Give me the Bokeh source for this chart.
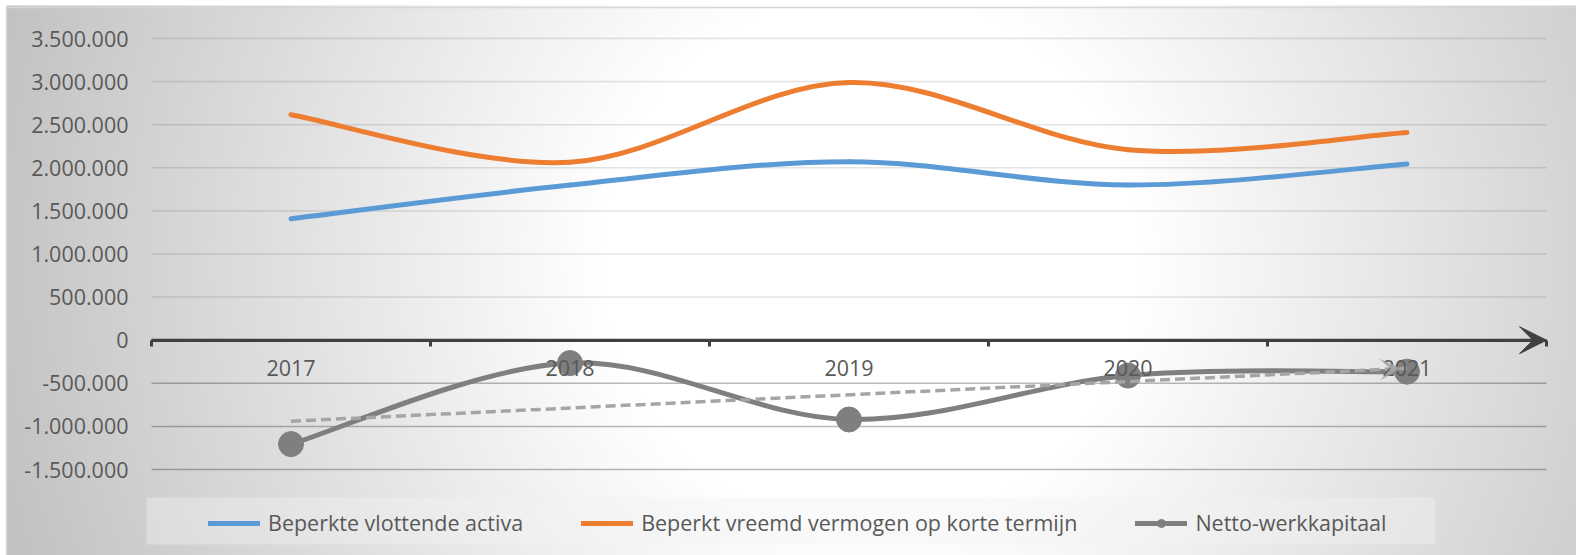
import numpy as np
from bokeh.plotting import figure
from bokeh.models import (Range1d, LinearAxis, FixedTicker, Arrow, VeeHead, Legend,
                          LegendItem, ColumnDataSource)
from bokeh.embed import file_html
from bokeh.resources import INLINE

# ---------------- data ----------------
years = ["2017", "2018", "2019", "2020", "2021"]
vlottende_activa = [1410000, 1800000, 2070000, 1800000, 2045000]
vreemd_vermogen = [2615000, 2065000, 2990000, 2210000, 2410000]
netto_werkkapitaal = [-1205000, -265000, -920000, -410000, -365000]
y_ticks = [-1500000, -1000000, -500000, 0, 500000, 1000000, 1500000,
           2000000, 2500000, 3000000, 3500000]
y_tick_labels = ["-1.500.000", "-1.000.000", "-500.000", "0", "500.000", "1.000.000",
                 "1.500.000", "2.000.000", "2.500.000", "3.000.000", "3.500.000"]
series_names = ["Beperkte vlottende activa",
                "Beperkt vreemd vermogen op korte termijn",
                "Netto-werkkapitaal"]

# ---------------- layout constants (pixel geometry) ----------------
W, H = 1576, 555
PX_X = 279.0            # px per category
X0_PX = 151.0           # px of x=0.5
PX_Y = 86.2e-6          # px per unit value
Y_TOP_PX = 38.0         # px of 3.5M
x_start = 0.5 - X0_PX / PX_X
x_end = x_start + W / PX_X
y_end = 3500000 + Y_TOP_PX / PX_Y
y_start = y_end - H / PX_Y


def dx(px):
    return x_start + px / PX_X


def dy(py):
    return y_end - py / PX_Y


FONT = "Open Sans"
FSIZE = "21.5px"
TXT = "#595959"
BLUE, ORANGE, GRAY = "#5B9BD5", "#ED7D31", "#7F7F7F"

p = figure(width=W, height=H, x_range=Range1d(x_start, x_end), y_range=Range1d(y_start, y_end),
           x_axis_type=None, y_axis_type=None, toolbar_location=None, output_backend="svg",
           min_border=0, min_border_left=0, min_border_right=0, min_border_top=0,
           min_border_bottom=0, background_fill_color="white", border_fill_color="white",
           outline_line_color=None)

# ---------------- radial gradient background ----------------
BX, BY = 6, 7   # chart area top-left
sc = 2
gw, gh = (W - BX) // sc + 1, (H - BY) // sc + 1
gx = BX + (np.arange(gw) + 0.5) * sc
gy = H - (np.arange(gh) + 0.5) * sc   # row 0 = bottom
GX, GY = np.meshgrid(gx, gy)
d = np.sqrt((GX - 870) ** 2 + (GY - 260) ** 2)
t = np.clip((d - 270) / (860 - 270), 0, 1.15)
v = np.clip(255 - t * 57, 0, 255).astype(np.uint32)
img = (255 << 24) | (v << 16) | (v << 8) | v
p.image_rgba(image=[img.astype(np.uint32)], x=dx(BX), y=y_start, dw=gw * sc / PX_X,
             dh=gh * sc / PX_Y)
p.quad(left=dx(BX), right=dx(W + 5), top=dy(BY), bottom=dy(H + 5), fill_color=None,
       line_color="#d6d6d6", line_width=1.5)

# ---------------- gridlines ----------------
grid_ticks = [t_ for t_ in y_ticks if t_ != 0]
grid_alpha = [0.27 if t_ < 0 else 0.11 for t_ in grid_ticks]
p.segment(x0=0.5, x1=5.5, y0=grid_ticks, y1=grid_ticks, line_color="black",
          line_alpha=grid_alpha, line_width=1.5)

# ---------------- axes ----------------
yax = LinearAxis(fixed_location=0.5, ticker=FixedTicker(ticks=y_ticks),
                 major_label_overrides={t_: l for t_, l in zip(y_ticks, y_tick_labels)},
                 axis_line_color=None, major_tick_line_color=None, minor_tick_line_color=None,
                 major_tick_out=0, major_tick_in=0,
                 major_label_standoff=23, major_label_text_font=FONT,
                 major_label_text_font_size=FSIZE, major_label_text_color=TXT)
p.add_layout(yax, "left")

xpos = list(range(1, len(years) + 1))
bounds = [0.5 + i for i in range(len(years) + 1)]
xax = LinearAxis(fixed_location=0, ticker=FixedTicker(ticks=bounds), bounds=(0.5, 5.5),
                 axis_line_color="#404040", axis_line_width=3,
                 major_tick_line_color="#404040", major_tick_line_width=3,
                 major_tick_out=6, major_tick_in=0, minor_tick_line_color=None,
                 major_label_text_color=None)
p.add_layout(xax, "below")
cax = LinearAxis(fixed_location=0, ticker=FixedTicker(ticks=xpos),
                 major_label_overrides={x_: y_ for x_, y_ in zip(xpos, years)},
                 axis_line_color=None, major_tick_line_color=None, minor_tick_line_color=None,
                 major_tick_out=0, major_tick_in=0,
                 major_label_standoff=20, major_label_text_font=FONT,
                 major_label_text_font_size=FSIZE, major_label_text_color=TXT)
p.add_layout(cax, "below")
p.add_layout(Arrow(end=VeeHead(size=27, fill_color="#404040", line_color="#404040"),
                   x_start=0.5, y_start=0, x_end=5.5, y_end=0,
                   line_color="#404040", line_width=3))


# ---------------- smooth lines (Excel-like bezier) ----------------
def smooth(xs, ys):
    P = np.column_stack([xs, ys]).astype(float)
    n = len(P)
    out = dict(x0=[], y0=[], x1=[], y1=[], cx0=[], cy0=[], cx1=[], cy1=[])
    for i in range(n - 1):
        pm = P[i - 1] if i > 0 else P[i]
        pp = P[i + 2] if i + 2 < n else P[i + 1]
        c1 = P[i] + (P[i + 1] - pm) / 6.0
        c2 = P[i + 1] - (pp - P[i]) / 6.0
        out["x0"].append(P[i][0]); out["y0"].append(P[i][1])
        out["x1"].append(P[i + 1][0]); out["y1"].append(P[i + 1][1])
        out["cx0"].append(c1[0]); out["cy0"].append(c1[1])
        out["cx1"].append(c2[0]); out["cy1"].append(c2[1])
    return ColumnDataSource(out)


for ys, col in [(vlottende_activa, BLUE), (vreemd_vermogen, ORANGE), (netto_werkkapitaal, GRAY)]:
    p.bezier(x0="x0", y0="y0", x1="x1", y1="y1", cx0="cx0", cy0="cy0", cx1="cx1", cy1="cy1",
             source=smooth(xpos, ys), line_color=col, line_width=5, line_cap="round")

p.scatter(x=xpos, y=netto_werkkapitaal, size=25, color=GRAY)

# trendline (linear fit of netto-werkkapitaal)
k, b = np.polyfit(xpos, netto_werkkapitaal, 1)
tx = [xpos[0], xpos[-1]]
ty = [k * xx + b for xx in tx]
p.line(tx, ty, line_color="#A5A5A5", line_width=3.5, line_dash="10 5")
p.add_layout(Arrow(end=VeeHead(size=22, fill_color="#A5A5A5", fill_alpha=0.85, line_color=None),
                   x_start=tx[1] - 0.06, y_start=k * (tx[1] - 0.06) + b,
                   x_end=tx[1] - 0.02, y_end=k * (tx[1] - 0.02) + b, line_alpha=0))

# ---------------- legend ----------------
p.quad(left=dx(146), right=dx(1435), top=dy(497), bottom=dy(544), fill_color="#F2F2F2",
       fill_alpha=0.4, line_color=None)

hx = [x_start - 2, x_start - 1]
hy = [0, 0]
r1 = p.line(x=hx, y=hy, line_color=BLUE, line_width=5, line_cap="round")
r2 = p.line(x=hx, y=hy, line_color=ORANGE, line_width=5, line_cap="round")
r3 = p.line(x=hx, y=hy, line_color=GRAY, line_width=5, line_cap="round")
r3m = p.scatter(x=hx, y=hy, size=12, color=GRAY)
legend = Legend(items=[LegendItem(label=series_names[0], renderers=[r1]),
                       LegendItem(label=series_names[1], renderers=[r2]),
                       LegendItem(label=series_names[2], renderers=[r3, r3m])],
                orientation="horizontal", location=(208, 18), padding=0, margin=0,
                spacing=58, glyph_width=52, glyph_height=20, label_standoff=8,
                label_text_font=FONT, label_text_font_size=FSIZE, label_text_color=TXT,
                background_fill_alpha=0, border_line_color=None)
p.add_layout(legend, "center")

open("out.html", "w").write(file_html(p, INLINE))
